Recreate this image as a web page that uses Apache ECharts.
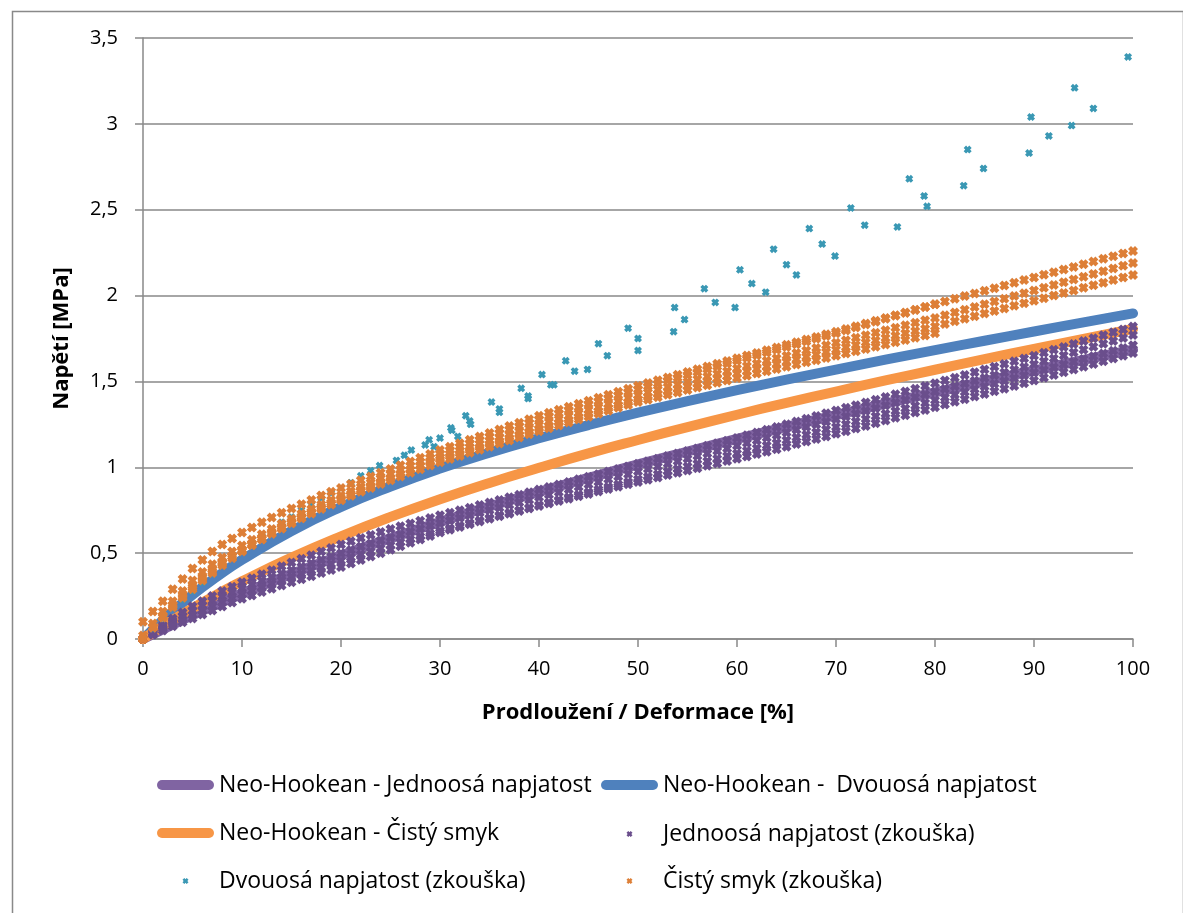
<!DOCTYPE html>
<html>
<head>
<meta charset="utf-8">
<title>Napětí – deformace</title>
<script src="https://cdn.jsdelivr.net/npm/echarts@6/dist/echarts.min.js"></script>
<style>
  html, body { margin: 0; padding: 0; background: #ffffff; }
  #chart { width: 1183px; height: 913px; }
</style>
</head>
<body>
<div id="chart"></div>
<script>
// ---- Neo-Hookean model curves (strain in %, stress in MPa) ----
const nhStrain = [0, 2.5, 5, 7.5, 10, 15, 20, 25, 30, 35, 40, 45, 50, 55, 60, 65, 70, 75, 80, 85, 90, 95, 100];
const nhJednoosa = [0, 0.070, 0.138, 0.202, 0.263, 0.379, 0.487, 0.587, 0.682, 0.772, 0.857, 0.938, 1.017, 1.092, 1.165, 1.235, 1.304, 1.371, 1.436, 1.500, 1.563, 1.625, 1.685];
const nhDvouosa = [0, 0.136, 0.257, 0.364, 0.461, 0.629, 0.769, 0.888, 0.993, 1.085, 1.169, 1.246, 1.318, 1.385, 1.449, 1.510, 1.569, 1.627, 1.682, 1.737, 1.791, 1.844, 1.896];
const nhSmyk = [0, 0.093, 0.179, 0.260, 0.336, 0.474, 0.598, 0.711, 0.814, 0.909, 0.997, 1.081, 1.159, 1.234, 1.306, 1.375, 1.441, 1.506, 1.568, 1.630, 1.689, 1.748, 1.806];

// ---- measured strain steps of the uniaxial and pure-shear tests (%) ----
const testStrain = [0,1,2,3,4,5,6,7,8,9,10,11,12,13,14,15,16,17,18,19,20,21,22,23,24,25,26,27,28,29,30,
  31,32,33,34,35,36,37,38,39,40,41,42,43,44,45,46,47,48,49,50,51,52,53,54,55,56,57,58,59,60,
  61,62,63,64,65,66,67,68,69,70,71,72,73,74,75,76,77,78,79,80,81,82,83,84,85,86,87,88,89,90,
  91,92,93,94,95,96,97,98,99,100];

// ---- uniaxial tension tests, four specimens (MPa) ----
const jednoosa1 = [0,.04,.08,.12,.155,.19,.22,.25,.28,.305,.33,.354,.377,.40,.423,.445,.467,.488,.509,.53,.55,
  .569,.588,.606,.623,.64,.657,.673,.689,.705,.72,.735,.75,.765,.78,.795,.81,.825,.84,.855,.87,
  .885,.90,.915,.93,.945,.96,.975,.99,1.005,1.02,1.035,1.05,1.065,1.08,1.095,1.11,1.125,1.14,1.155,1.17,
  1.186,1.202,1.218,1.234,1.25,1.266,1.282,1.298,1.314,1.33,1.346,1.362,1.378,1.394,1.41,1.426,1.442,1.458,1.474,1.49,
  1.506,1.522,1.538,1.554,1.57,1.586,1.602,1.618,1.634,1.65,1.667,1.684,1.701,1.718,1.735,1.752,1.769,1.786,1.803,1.82];
const jednoosa2 = [0,.035,.07,.105,.135,.165,.195,.222,.248,.272,.295,.317,.339,.36,.381,.401,.421,.441,.461,.481,.50,
  .519,.538,.556,.574,.591,.608,.625,.642,.659,.675,.69,.705,.72,.735,.75,.765,.78,.795,.81,.825,
  .84,.855,.87,.885,.90,.915,.93,.945,.96,.975,.99,1.005,1.02,1.035,1.05,1.065,1.08,1.095,1.11,1.125,
  1.141,1.156,1.172,1.187,1.203,1.218,1.234,1.249,1.265,1.28,1.296,1.312,1.328,1.344,1.36,1.376,1.392,1.408,1.424,1.44,
  1.456,1.472,1.488,1.504,1.52,1.536,1.552,1.568,1.584,1.60,1.617,1.634,1.651,1.668,1.685,1.702,1.719,1.736,1.753,1.77];
const jednoosa3 = [0,.03,.06,.088,.114,.14,.165,.19,.214,.237,.26,.281,.302,.322,.342,.361,.38,.399,.418,.437,.455,
  .474,.492,.51,.528,.546,.563,.58,.597,.614,.63,.645,.66,.675,.69,.705,.72,.735,.75,.765,.78,
  .795,.81,.825,.84,.855,.87,.885,.90,.915,.93,.945,.96,.975,.99,1.005,1.02,1.035,1.05,1.065,1.08,
  1.096,1.111,1.127,1.142,1.158,1.173,1.189,1.204,1.22,1.235,1.25,1.266,1.281,1.297,1.312,1.328,1.343,1.359,1.374,1.39,
  1.406,1.422,1.438,1.454,1.47,1.486,1.502,1.518,1.534,1.55,1.566,1.582,1.598,1.614,1.63,1.646,1.662,1.678,1.694,1.71];
const jednoosa4 = [0,.025,.05,.074,.097,.12,.143,.166,.189,.212,.235,.254,.273,.292,.311,.33,.348,.366,.384,.402,.42,
  .44,.46,.48,.50,.52,.54,.56,.58,.60,.62,.636,.652,.668,.684,.70,.715,.73,.745,.76,.775,
  .789,.803,.817,.831,.845,.859,.873,.887,.901,.915,.928,.941,.955,.968,.982,.995,1.009,1.022,1.036,1.049,
  1.063,1.077,1.091,1.105,1.12,1.135,1.15,1.165,1.18,1.195,1.21,1.226,1.241,1.257,1.272,1.288,1.303,1.319,1.334,1.35,
  1.365,1.381,1.396,1.412,1.427,1.443,1.458,1.474,1.489,1.505,1.521,1.537,1.553,1.569,1.585,1.601,1.617,1.633,1.649,1.665];

// ---- pure shear tests, five specimens (two stop at 80 %) ----
const smyk1 = [.10,.16,.22,.29,.35,.41,.46,.51,.55,.585,.62,.65,.68,.708,.735,.76,.785,.81,.835,.858,.88,
  .902,.924,.946,.968,.99,1.012,1.034,1.056,1.078,1.10,1.12,1.14,1.16,1.18,1.20,1.22,1.24,1.26,1.28,1.30,
  1.318,1.335,1.353,1.37,1.388,1.405,1.423,1.44,1.458,1.475,1.491,1.507,1.523,1.539,1.555,1.571,1.587,1.603,1.619,1.635,
  1.651,1.666,1.682,1.697,1.713,1.728,1.744,1.759,1.775,1.79,1.806,1.822,1.838,1.854,1.87,1.886,1.902,1.918,1.934,1.95,
  1.966,1.981,1.997,2.012,2.028,2.043,2.059,2.074,2.09,2.105,2.121,2.136,2.152,2.167,2.183,2.198,2.214,2.229,2.245,2.26];
const smyk2 = [0,.07,.13,.20,.26,.31,.36,.405,.445,.48,.515,.549,.581,.613,.644,.674,.703,.731,.758,.784,.81,
  .836,.862,.887,.912,.937,.962,.987,1.012,1.036,1.06,1.079,1.098,1.117,1.136,1.154,1.172,1.19,1.208,1.227,1.245,
  1.263,1.28,1.298,1.315,1.333,1.35,1.368,1.385,1.403,1.42,1.436,1.451,1.467,1.482,1.498,1.513,1.529,1.544,1.56,1.575,
  1.59,1.605,1.62,1.635,1.65,1.665,1.68,1.695,1.71,1.725,1.74,1.754,1.769,1.783,1.798,1.812,1.827,1.841,1.856,1.87,
  1.886,1.902,1.918,1.934,1.95,1.966,1.982,1.998,2.014,2.03,2.046,2.062,2.078,2.094,2.11,2.126,2.142,2.158,2.174,2.19];
const smyk3 = [0,.07,.135,.195,.25,.30,.35,.395,.44,.48,.52,.556,.59,.623,.654,.684,.713,.741,.768,.794,.82,
  .845,.869,.893,.916,.939,.962,.984,1.006,1.026,1.045,1.063,1.081,1.099,1.117,1.135,1.153,1.171,1.189,1.207,1.225,
  1.242,1.259,1.276,1.293,1.31,1.327,1.344,1.361,1.378,1.395,1.41,1.425,1.44,1.455,1.47,1.485,1.5,1.515,1.53,1.545,
  1.559,1.573,1.587,1.601,1.615,1.629,1.643,1.657,1.671,1.685,1.699,1.712,1.726,1.739,1.753,1.766,1.78,1.793,1.807,1.82,
  1.835,1.85,1.865,1.88,1.895,1.91,1.925,1.94,1.955,1.97,1.985,2.0,2.015,2.03,2.045,2.06,2.075,2.09,2.105,2.12];
const smyk4 = [.02,.09,.16,.22,.28,.34,.39,.435,.475,.51,.545,.578,.61,.641,.671,.701,.73,.757,.784,.81,.835,
  .86,.885,.91,.935,.959,.983,1.007,1.032,1.056,1.08,1.1,1.12,1.14,1.16,1.18,1.2,1.22,1.24,1.26,1.28,
  1.298,1.315,1.333,1.35,1.368,1.385,1.403,1.42,1.438,1.455,1.472,1.488,1.505,1.521,1.538,1.554,1.571,1.587,1.604,1.62,
  1.636,1.652,1.668,1.684,1.70,1.716,1.732,1.748,1.764,1.78,1.797,1.814,1.831,1.848,1.865,1.882,1.899,1.916,1.933,1.95];
const smyk5 = [0,.065,.125,.185,.24,.29,.34,.385,.43,.47,.51,.546,.58,.613,.644,.674,.703,.731,.758,.784,.81,
  .834,.857,.88,.903,.925,.947,.968,.989,1.01,1.03,1.048,1.066,1.084,1.102,1.12,1.138,1.156,1.174,1.192,1.21,
  1.227,1.244,1.261,1.278,1.295,1.312,1.329,1.346,1.363,1.38,1.394,1.408,1.422,1.436,1.45,1.464,1.478,1.492,1.506,1.52,
  1.533,1.546,1.559,1.572,1.585,1.598,1.611,1.624,1.637,1.65,1.663,1.676,1.689,1.702,1.715,1.728,1.741,1.754,1.767,1.78];

// ---- equibiaxial tension test points ----
const dvouosaStrain = [1.0,2.0,3.0,4.0,5.0,6.0,7.0,8.0,9.0,10.0,11.0,12.0,13.0,14.0,15.0,16.0,17.0,18.0,19.0,20.0,21.0,22.0,23.0,
  23.9,25.6,26.4,27.1,28.5,28.9,29.4,30.0,31.1,31.2,31.8,32.6,33.0,33.1,35.2,36.0,36.0,38.2,38.9,38.9,
  40.3,41.2,41.5,42.7,43.6,44.9,46.0,46.9,49.0,50.0,50.0,53.6,53.7,54.7,56.7,57.8,59.8,60.3,61.5,62.9,
  63.7,65.0,66.0,67.3,68.6,69.9,71.5,72.9,76.2,77.4,78.9,79.2,82.9,83.3,84.9,89.5,89.7,91.5,93.8,94.1,96.0,99.5];
const dvouosaStress = [0.06,0.12,0.18,0.23,0.28,0.33,0.38,0.43,0.48,0.52,0.56,0.60,0.64,0.68,0.71,0.75,0.78,0.82,0.85,0.88,0.91,0.95,0.98,
  1.01,1.04,1.07,1.10,1.13,1.16,1.12,1.17,1.23,1.215,1.18,1.30,1.27,1.25,1.38,1.34,1.32,1.46,1.415,1.40,
  1.54,1.48,1.48,1.62,1.56,1.57,1.72,1.65,1.81,1.75,1.68,1.79,1.93,1.86,2.04,1.96,1.93,2.15,2.07,2.02,
  2.27,2.18,2.12,2.39,2.30,2.23,2.51,2.41,2.40,2.68,2.58,2.52,2.64,2.85,2.74,2.83,3.04,2.93,2.99,3.21,3.09,3.39];

// ---- tick values ----
const yTicks = [0, 0.5, 1, 1.5, 2, 2.5, 3, 3.5];
const xTicks = [0, 10, 20, 30, 40, 50, 60, 70, 80, 90, 100];

const NAMES = {
  nhJ: 'Neo-Hookean - Jednoosá napjatost',
  nhD: 'Neo-Hookean -  Dvouosá napjatost',
  nhC: 'Neo-Hookean - Čistý smyk',
  tJ: 'Jednoosá napjatost (zkouška)',
  tD: 'Dvouosá napjatost (zkouška)',
  tC: 'Čistý smyk (zkouška)'
};

const FONT = '"Open Sans", "Noto Sans", sans-serif';
const GRID_GRAY = '#898989';
// x-shaped marker used for the measured points
const X_MARK = 'path://M3,0 L5,2 L7,0 L10,3 L8,5 L10,7 L7,10 L5,8 L3,10 L0,7 L2,5 L0,3 Z';
// legend icons: a rounded bar for model curves, a small centred cross for test points
const CAPSULE = 'path://M5,0 L52,0 A5,5 0 0 1 52,10 L5,10 A5,5 0 0 1 5,0 Z';
const X_LEGEND = 'path://M0,3 L0.01,3 L0,3.01 Z M57,3 L56.99,3 L57,3.01 Z ' +
  'M27.3,0 L28.5,1.2 L29.7,0 L31.5,1.8 L30.3,3 L31.5,4.2 L29.7,6 L28.5,4.8 L27.3,6 L25.5,4.2 L26.7,3 L25.5,1.8 Z';

function pairs(xs, ys) {
  return ys.map((y, i) => [xs[i], y]);
}
function curves(xs, list) {
  return list.reduce((acc, ys) => acc.concat(pairs(xs, ys)), []);
}
const comma = v => String(v).replace('.', ',');

function lineSeries(name, ys, color) {
  return {
    name, type: 'line', data: pairs(nhStrain, ys), smooth: true,
    showSymbol: false, symbol: 'none', clip: false, color,
    lineStyle: { color, width: 10, cap: 'round', join: 'round' },
    emphasis: { disabled: true }, z: 2
  };
}
function scatterSeries(name, data, color, size) {
  return {
    name, type: 'scatter', data, symbol: X_MARK, symbolSize: size, color,
    itemStyle: { color, opacity: 1 }, emphasis: { disabled: true }, z: 3
  };
}

const legendText = { fontFamily: FONT, fontSize: 23, color: '#000000', lineHeight: 26 };
function legendBlock(items, left, top, icon, w, h, gap) {
  return {
    orient: 'vertical', left, top, itemWidth: w, itemHeight: h, itemGap: gap,
    icon, selectedMode: false, padding: 0, textStyle: legendText,
    data: items
  };
}

const chart = echarts.init(document.getElementById('chart'), null, { renderer: 'canvas', width: 1183, height: 913 });
chart.setOption({
  animation: false,
  backgroundColor: '#ffffff',
  graphic: [{
    type: 'rect', left: 10, top: 9, silent: true,
    shape: { x: 0, y: 0, width: 1171, height: 960 },
    style: { fill: 'none', stroke: GRID_GRAY, lineWidth: 1.5 }
  }],
  grid: { left: 143, right: 50, top: 38, bottom: 274, containLabel: false, outerBoundsMode: 'none' },
  legend: [
    legendBlock([NAMES.nhJ, NAMES.nhC], 157, 772, CAPSULE, 57, 10, 22),
    legendBlock([NAMES.nhD], 601, 772, CAPSULE, 57, 10, 22),
    legendBlock([NAMES.tD], 157, 868, X_LEGEND, 57, 6, 21),
    legendBlock([NAMES.tJ, NAMES.tC], 601, 821, X_LEGEND, 57, 6, 21)
  ],
  xAxis: {
    type: 'value', min: xTicks[0], max: xTicks[xTicks.length - 1], interval: 10,
    name: 'Prodloužení / Deformace [%]', nameLocation: 'middle', nameGap: 63,
    nameTextStyle: { fontFamily: FONT, fontSize: 22, fontWeight: 'bold', color: '#000000' },
    axisLine: { show: true, onZero: false, lineStyle: { color: GRID_GRAY, width: 1.5 } },
    axisTick: { show: true, inside: false, length: 8, lineStyle: { color: GRID_GRAY, width: 1.5 } },
    axisLabel: { fontFamily: FONT, fontSize: 20, color: '#000000', margin: 20, formatter: comma },
    splitLine: { show: false }
  },
  yAxis: {
    type: 'value', min: yTicks[0], max: yTicks[yTicks.length - 1], interval: 0.5,
    name: 'Napětí [MPa]', nameLocation: 'middle', nameGap: 70,
    nameTextStyle: { fontFamily: FONT, fontSize: 22, fontWeight: 'bold', color: '#000000' },
    axisLine: { show: true, onZero: false, lineStyle: { color: GRID_GRAY, width: 1.5 } },
    axisTick: { show: true, inside: false, length: 8, lineStyle: { color: GRID_GRAY, width: 1.5 } },
    axisLabel: { fontFamily: FONT, fontSize: 20, color: '#000000', margin: 25, formatter: comma },
    splitLine: { show: true, lineStyle: { color: GRID_GRAY, width: 1.5 } }
  },
  series: [
    lineSeries(NAMES.nhJ, nhJednoosa, '#8064a2'),
    lineSeries(NAMES.nhD, nhDvouosa, '#4f81bd'),
    lineSeries(NAMES.nhC, nhSmyk, '#f79646'),
    scatterSeries(NAMES.tJ, curves(testStrain, [jednoosa1, jednoosa2, jednoosa3, jednoosa4]), '#6a4e8c', 10),
    scatterSeries(NAMES.tD, pairs(dvouosaStrain, dvouosaStress), '#3a98b4', 8),
    scatterSeries(NAMES.tC, curves(testStrain, [smyk1, smyk2, smyk3, smyk4, smyk5]), '#dd7f37', 10)
  ]
});
</script>
</body>
</html>
